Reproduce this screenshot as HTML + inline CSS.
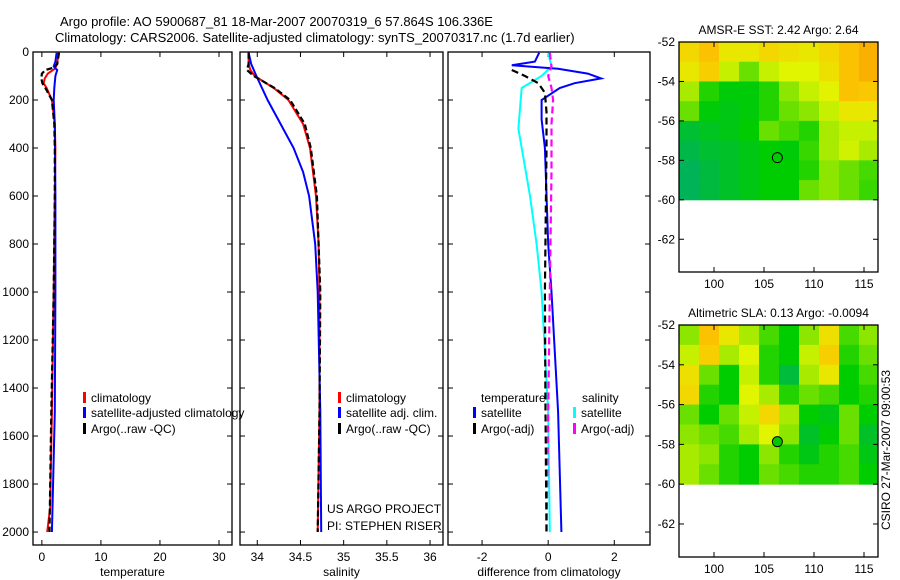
<!DOCTYPE html>
<html><head><meta charset="utf-8">
<style>
html,body{margin:0;padding:0;background:#fff;}
svg{display:block;font-family:"Liberation Sans",sans-serif;}
</style></head>
<body>
<svg id="chart" width="900" height="580" viewBox="0 0 900 580" xmlns="http://www.w3.org/2000/svg">
<text x="60" y="26" font-size="13">Argo profile: AO 5900687_81 18-Mar-2007 20070319_6 57.864S 106.336E</text>
<text x="55" y="42" font-size="13">Climatology: CARS2006. Satellite-adjusted climatology: synTS_20070317.nc (1.7d earlier)</text>
<g id="plots"></g>
<text transform="translate(890,450) rotate(-90)" text-anchor="middle" font-size="12">CSIRO 27-Mar-2007 09:00:53</text>
</svg>
<script>
// ---- data ----
const tempArgoDepth=[3,20,50,65,75,90,110,130,150,200,300,400,600,1000,1500,2000];
const tempArgo=[2.9,2.8,2.6,2.0,0.6,0.0,-0.1,0.1,0.6,1.7,2.1,2.2,2.2,2.0,1.6,1.3];
const tempClimDepth=[3,50,70,90,110,130,150,200,300,400,600,1000,1500,1900,2000];
const tempClim=[2.8,2.6,2.2,1.0,0.5,0.3,0.8,1.7,2.2,2.3,2.2,2.0,1.7,1.4,0.9];
const tempSatDepth=[3,40,60,75,100,150,200,300,600,1000,1500,1900,2000];
const tempSat=[2.5,2.3,2.0,2.6,2.3,2.1,2.0,2.2,2.3,2.3,2.2,1.8,1.7];

const salArgoDepth=[3,50,75,100,150,200,300,400,600,800,1000,1500,2000];
const salArgo=[33.9,33.9,33.88,33.96,34.2,34.38,34.55,34.62,34.69,34.71,34.73,34.72,34.7];
const salClimDepth=[3,50,75,100,150,200,300,400,600,800,1000,1500,2000];
const salClim=[33.9,33.9,33.92,33.97,34.19,34.36,34.53,34.61,34.68,34.71,34.72,34.72,34.7];
const salSatDepth=[3,50,100,200,300,400,500,600,800,1000,1500,2000];
const salSat=[33.9,33.93,33.99,34.12,34.27,34.42,34.53,34.6,34.67,34.7,34.73,34.74];

const dTempSatDepth=[3,40,55,70,90,110,130,150,200,280,400,800,1000,1500,2000];
const dTempSat=[-0.27,-0.4,-1.1,0.3,1.2,1.6,0.8,0.35,-0.2,-0.2,-0.1,0.0,0.1,0.3,0.4];
const dSalSatDepth=[3,60,100,150,230,320,600,800,1000,1500,2000];
const dSalSat=[0.0,0.1,-0.2,-0.8,-0.85,-0.9,-0.55,-0.35,-0.2,0.0,0.05];
const dTempArgoDepth=[75,100,130,170,250,400,1000,1500,2000];
const dTempArgo=[-1.1,-0.7,-0.3,-0.1,-0.05,-0.05,-0.1,-0.08,-0.05];
const dSalArgoDepth=[3,60,100,150,200,300,500,1000,1500,2000];
const dSalArgo=[0.05,0.1,0.0,0.1,0.15,0.1,0.1,0.05,0.0,-0.05];

const depthTicks=[0,200,400,600,800,1000,1200,1400,1600,1800,2000];
const tempTicks=[0,10,20,30];
const salTicks=[34,34.5,35,35.5,36];
const diffTicks=[-2,0,2];
const latTicks=[-52,-54,-56,-58,-60,-62];
const lonTicks=[100,105,110,115];

// map values: rows from -52 (top) to -60, 10 columns of 2 deg from 96.5
const sstGrid=[
[0.75,0.82,0.7,0.7,0.75,0.72,0.7,0.75,0.82,0.88],
[0.7,0.78,0.6,0.45,0.6,0.65,0.65,0.72,0.82,0.88],
[0.55,0.35,0.28,0.28,0.35,0.5,0.6,0.66,0.82,0.8],
[0.45,0.28,0.25,0.28,0.35,0.45,0.5,0.6,0.7,0.7],
[0.18,0.22,0.25,0.3,0.45,0.4,0.35,0.55,0.6,0.6],
[0.12,0.18,0.2,0.25,0.3,0.28,0.38,0.55,0.62,0.55],
[0.08,0.14,0.2,0.25,0.3,0.3,0.35,0.5,0.45,0.4],
[0.08,0.14,0.2,0.25,0.3,0.3,0.45,0.5,0.45,0.38]];
const slaGrid=[
[0.5,0.82,0.7,0.55,0.4,0.3,0.5,0.72,0.4,0.5],
[0.6,0.78,0.55,0.65,0.35,0.3,0.6,0.78,0.35,0.45],
[0.72,0.45,0.3,0.6,0.35,0.15,0.55,0.7,0.3,0.4],
[0.75,0.35,0.3,0.65,0.55,0.35,0.45,0.4,0.3,0.35],
[0.45,0.3,0.45,0.6,0.75,0.55,0.3,0.25,0.45,0.3],
[0.5,0.45,0.4,0.55,0.65,0.5,0.2,0.3,0.45,0.2],
[0.55,0.5,0.35,0.3,0.5,0.35,0.25,0.35,0.4,0.25],
[0.55,0.45,0.35,0.3,0.45,0.4,0.35,0.35,0.4,0.3]];

// ---- helpers ----
const NS="http://www.w3.org/2000/svg";
const root=document.getElementById('plots');
function el(tag,attrs,parent){const e=document.createElementNS(NS,tag);for(const k in attrs)e.setAttribute(k,attrs[k]);(parent||root).appendChild(e);return e;}
function txt(x,y,s,size,anchor,parent){const t=el('text',{x:x,y:y,'font-size':size,'text-anchor':anchor||'start'},parent);t.textContent=s;return t;}

const Y0=52,Y1=545,DMAX=2054;
function yD(d){return Y0+(Y1-Y0)*d/DMAX;}

function panel(name,x0,x1,vmin,vmax,xticks,xlabel,showY){
  const g=el('g',{});
  
  
  const sx=v=>x0+(x1-x0)*(v-vmin)/(vmax-vmin);
  const r=el('rect',{x:x0,y:Y0,width:x1-x0,height:Y1-Y0,fill:'none',stroke:'#000','stroke-width':1.3},g);
  
  
  depthTicks.forEach(d=>{const y=yD(d);
    el('line',{x1:x0,y1:y,x2:x0+5,y2:y,stroke:'#000'},g);
    el('line',{x1:x1,y1:y,x2:x1-5,y2:y,stroke:'#000'},g);
    if(showY){const t=txt(x0-4,y+4,String(d),12,'end',g);}
  });
  xticks.forEach(v=>{const x=sx(v);
    el('line',{x1:x,y1:Y1,x2:x,y2:Y1-5,stroke:'#000'},g);
    el('line',{x1:x,y1:Y0,x2:x,y2:Y0+5,stroke:'#000'},g);
    const t=txt(x,Y1+16,String(v),12,'middle',g);
    
    
  });
  const xl=txt((x0+x1)/2,Y1+31,xlabel,12,'middle',g);
  
  
  return {g,sx};
}
function series(p,depths,vals,color,dash,name,w){
  const pts=depths.map((d,i)=>p.sx(vals[i]).toFixed(1)+','+yD(d).toFixed(1)).join(' ');
  const l=el('polyline',{points:pts,fill:'none',stroke:color,'stroke-width':w||2,'stroke-dasharray':dash||'none'},p.g);
  
  
}
function legendEntry(g,x,y,color,label,name){
  el('rect',{x:x,y:y-10,width:3,height:11,fill:color},g);
  const t=txt(x+8,y,label,12,'start',g);
  
  
}

// panel 1
const p1=panel('temperature-panel',33,232,-1.5,32.2,tempTicks,'temperature',true);
series(p1,tempClimDepth,tempClim,'#f00','none','temp-climatology-line');
series(p1,tempSatDepth,tempSat,'#00f','none','temp-satellite-line');
series(p1,tempArgoDepth,tempArgo,'#000','6,3','temp-argo-line',2.2);
legendEntry(p1.g,83,402,'#f00','climatology','legend-climatology');
legendEntry(p1.g,83,417,'#00f','satellite-adjusted climatology','legend-satellite');
legendEntry(p1.g,83,433,'#000','Argo(..raw -QC)','legend-argo');

// panel 2
const p2=panel('salinity-panel',240,443,33.8,36.15,salTicks,'salinity',false);
series(p2,salClimDepth,salClim,'#f00','none','sal-climatology-line');
series(p2,salSatDepth,salSat,'#00f','none','sal-satellite-line');
series(p2,salArgoDepth,salArgo,'#000','6,3','sal-argo-line',2.2);
legendEntry(p2.g,338,402,'#f00','climatology','legend-climatology');
legendEntry(p2.g,338,417,'#00f','satellite adj. clim.','legend-satellite');
legendEntry(p2.g,338,433,'#000','Argo(..raw -QC)','legend-argo');
const pr1=txt(327,513,'US ARGO PROJECT',12,'start',p2.g);
const pr2=txt(327,530,'PI: STEPHEN RISER',12,'start',p2.g);

// panel 3
const p3=panel('difference-panel',448,650,-3.03,3.08,diffTicks,'difference from climatology',false);
series(p3,dSalSatDepth,dSalSat,'#0ff','none','sal-satellite-diff-line');
series(p3,dTempSatDepth,dTempSat,'#00f','none','temp-satellite-diff-line');
series(p3,dSalArgoDepth,dSalArgo,'#f0f','7,4','sal-argo-diff-line',2.2);
series(p3,dTempArgoDepth,dTempArgo,'#000','7,4','temp-argo-diff-line',2.2);
const lt=txt(481,402,'temperature',12,'start',p3.g);
legendEntry(p3.g,473,417,'#00f','satellite','legend-temp-satellite');
legendEntry(p3.g,473,433,'#000','Argo(-adj)','legend-temp-argo');
const ls=txt(582,402,'salinity',12,'start',p3.g);
legendEntry(p3.g,573,417,'#0ff','satellite','legend-sal-satellite');
legendEntry(p3.g,573,433,'#f0f','Argo(-adj)','legend-sal-argo');

// maps
function cmap(v){
  const stops=[[0,[0,170,120]],[0.3,[0,205,0]],[0.5,[140,230,0]],[0.65,[225,245,0]],[0.8,[250,200,0]],[1,[250,140,0]]];
  for(let i=1;i<stops.length;i++){if(v<=stops[i][0]){const a=stops[i-1],b=stops[i];const t=(v-a[0])/(b[0]-a[0]);
    return 'rgb('+a[1].map((c,k)=>Math.round(c+(b[1][k]-c)*t)).join(',')+')';}}
  return 'rgb(250,140,0)';
}
function map(name,top,bottom,title,grid,filled){
  const g=el('g',{});
  
  
  const x0=679,x1=878,lon0=96.5,lon1=116.4,lat0=-52,lat1=-63.66;
  const sx=v=>x0+(x1-x0)*(v-lon0)/(lon1-lon0);
  const sy=v=>top+(bottom-top)*(v-lat0)/(lat1-lat0);
  const t=txt((x0+x1)/2,top-8,title,12,'middle',g);
  
  
  grid.forEach((row,r)=>row.forEach((v,c)=>{
    const xa=sx(lon0+c*2),xb=Math.min(sx(lon0+c*2+2),x1);
    const c1=el('rect',{x:xa,y:sy(-52-r),width:xb-xa+0.5,height:sy(-53-r)-sy(-52-r)+0.5,fill:cmap(v)},g);
    
    
  }));
  el('rect',{x:x0,y:top,width:x1-x0,height:bottom-top,fill:'none',stroke:'#000','stroke-width':1.3},g);
  latTicks.forEach(v=>{const y=sy(v);el('line',{x1:x0,y1:y,x2:x0+5,y2:y,stroke:'#000'},g);el('line',{x1:x1,y1:y,x2:x1-5,y2:y,stroke:'#000'},g);
    const l=txt(x0-4,y+4,String(v),12,'end',g);});
  lonTicks.forEach(v=>{const x=sx(v);el('line',{x1:x,y1:bottom,x2:x,y2:bottom-5,stroke:'#000'},g);el('line',{x1:x,y1:top,x2:x,y2:top+5,stroke:'#000'},g);
    const l=txt(x,bottom+16,String(v),12,'middle',g);});
  const m=el('circle',{cx:sx(106.336),cy:sy(-57.864),r:5,fill:filled?'#00c800':'none',stroke:'#000'},g);
  
  
}
map('sst-map',42,272,'AMSR-E SST: 2.42 Argo: 2.64',sstGrid,false);
map('sla-map',325,557,'Altimetric SLA: 0.13 Argo: -0.0094',slaGrid,true);
</script>
</body></html>
